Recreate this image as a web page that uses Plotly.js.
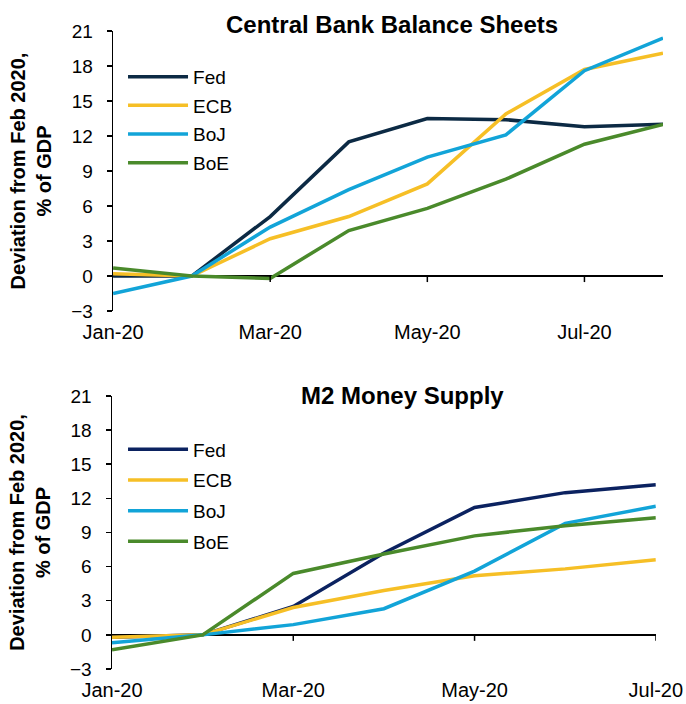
<!DOCTYPE html>
<html><head><meta charset="utf-8">
<script src="https://cdn.plot.ly/plotly-3.0.1.min.js"></script>
<style>body{margin:0;padding:0;background:#fff}#chart{width:686px;height:704px}</style>
</head><body><div id="chart"></div>
<script>
// Top panel: Central Bank Balance Sheets (deviation from Feb 2020, % of GDP)
const bsMonths = ["Jan-20","Feb-20","Mar-20","Apr-20","May-20","Jun-20","Jul-20","Aug-20"];
const bsFed = [0.0, 0, 5.1, 11.5, 13.5, 13.4, 12.8, 13.0];
const bsECB = [0.2, 0, 3.2, 5.1, 7.9, 13.9, 17.7, 19.1];
const bsBoJ = [-1.5, 0, 4.2, 7.4, 10.2, 12.1, 17.6, 20.4];
const bsBoE = [0.7, 0, -0.2, 3.9, 5.8, 8.3, 11.3, 13.0];

// Bottom panel: M2 Money Supply
const m2Months = ["Jan-20","Feb-20","Mar-20","Apr-20","May-20","Jun-20","Jul-20"];
const m2Fed = [-0.2, 0, 2.5, 7.2, 11.2, 12.5, 13.2];
const m2ECB = [-0.2, 0, 2.4, 3.9, 5.2, 5.8, 6.6];
const m2BoJ = [-0.7, 0, 0.9, 2.3, 5.6, 9.8, 11.3];
const m2BoE = [-1.3, 0, 5.4, 7.1, 8.7, 9.6, 10.3];

const tickLabels = ["Jan-20","Mar-20","May-20","Jul-20"];
const yTicks = [-3,0,3,6,9,12,15,18,21];

const seriesNames = ["Fed","ECB","BoJ","BoE"];
const topColors = ["#0c2a44","#f6bf26","#12a4d8","#4a8a2b"];
const botColors = ["#0b2260","#f6bf26","#12a4d8","#4a8a2b"];

const idx = a => a.map((_, i) => i);
const tickIdx = (months) => tickLabels.map(l => months.indexOf(l)).filter(i => i >= 0);

const traces = [];
[bsFed, bsECB, bsBoJ, bsBoE].forEach((s, k) => traces.push({
  x: idx(bsMonths), y: s, name: seriesNames[k], type: 'scatter', mode: 'lines',
  line: {color: topColors[k], width: 3.5}, xaxis: 'x', yaxis: 'y', legend: 'legend',
  legendgroup: 't' + k
}));
[m2Fed, m2ECB, m2BoJ, m2BoE].forEach((s, k) => traces.push({
  x: idx(m2Months), y: s, name: seriesNames[k], type: 'scatter', mode: 'lines',
  line: {color: botColors[k], width: 3.5}, xaxis: 'x2', yaxis: 'y2', legend: 'legend2',
  legendgroup: 'b' + k
}));

const font = {family: 'Liberation Sans, Arial, sans-serif', size: 19, color: '#000'};
const yTitle = {text: '<b>Deviation from Feb 2020,<br>% of GDP</b>', font: {size: 20, color: '#000'}, standoff: 14};

function yAxis(domain, anchor) {
  return {domain: domain, anchor: anchor, range: [-3, 21], tickvals: yTicks,
    showgrid: false, showline: true, linecolor: '#000', linewidth: 1.5,
    ticks: 'outside', ticklen: 5, tickwidth: 1.5, tickcolor: '#000', ticklabelstandoff: 10,
    tickfont: {size: 19},
    zeroline: true, zerolinecolor: '#000', zerolinewidth: 1.5, title: yTitle};
}
function xAxis(domain, anchor, months) {
  const ti = tickIdx(months);
  return {domain: domain, anchor: anchor, range: [0, months.length - 1],
    tickvals: ti, ticktext: ti.map(i => months[i]), showgrid: false, showline: false,
    zeroline: false, ticks: '', ticklabelstandoff: 7, tickfont: {size: 20}};
}

const shapes = [];
function zeroTicks(xref, yref, months) {
  tickIdx(months).forEach(i => {
    if (i === 0) return;
    shapes.push({type: 'line', xref: xref, yref: yref, ysizemode: 'pixel', yanchor: 0,
      x0: i, x1: i, y0: 0, y1: -6, line: {color: '#000', width: 1.5}});
  });
}
zeroTicks('x', 'y', bsMonths);
zeroTicks('x2', 'y2', m2Months);

const layout = {
  width: 686, height: 704, paper_bgcolor: '#fff', plot_bgcolor: '#fff',
  margin: {l: 112, r: 23, t: 31, b: 35},
  font: font, showlegend: true,
  xaxis: xAxis([0.002, 1], 'y', bsMonths),
  yaxis: yAxis([0.561, 1], 'x'),
  xaxis2: xAxis([0, 0.987], 'y2', m2Months),
  yaxis2: yAxis([0, 0.428], 'x2'),
  legend: {x: 0.02, y: 0.958, xanchor: 'left', yanchor: 'top', bgcolor: 'rgba(0,0,0,0)',
    font: {size: 19}, tracegroupgap: 1, itemwidth: 60},
  legend2: {x: 0.02, y: 0.374, xanchor: 'left', yanchor: 'top', bgcolor: 'rgba(0,0,0,0)',
    font: {size: 19}, tracegroupgap: 3, itemwidth: 60},
  shapes: shapes,
  annotations: [
    {text: '<b>Central Bank Balance Sheets</b>', xref: 'paper', yref: 'paper', x: 0.508, y: 1.0,
     xanchor: 'center', yanchor: 'middle', yshift: 7, showarrow: false, font: {size: 24}},
    {text: '<b>M2 Money Supply</b>', xref: 'paper', yref: 'paper', x: 0.528, y: 0.428,
     xanchor: 'center', yanchor: 'middle', yshift: 0, showarrow: false, font: {size: 24}}
  ]
};

Plotly.newPlot('chart', traces, layout, {displayModeBar: false, staticPlot: true});
</script></body></html>
